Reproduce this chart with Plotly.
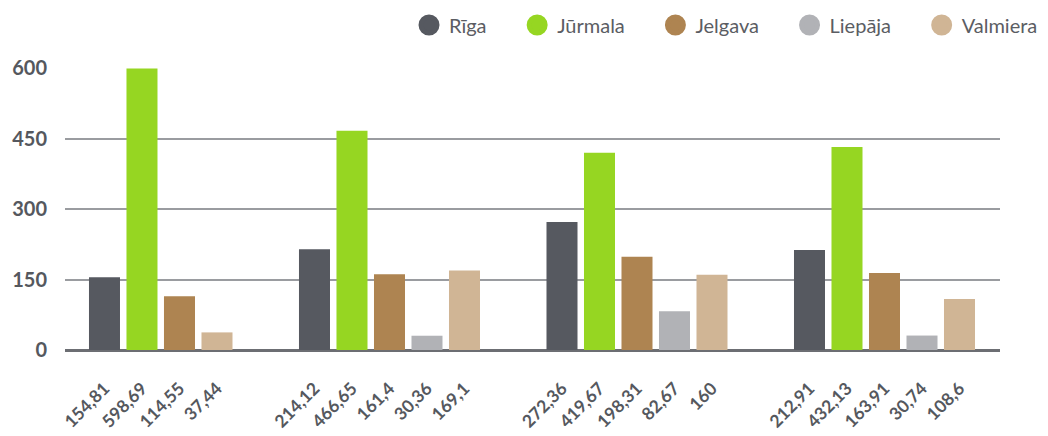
"""Grouped bar chart of five Latvian cities across four periods."""

import plotly.graph_objects as go

CITIES = ["Rīga", "Jūrmala", "Jelgava", "Liepāja", "Valmiera"]
COLORS = ["#565960", "#96d622", "#ae8451", "#b1b2b6", "#d0b595"]

# one value per group (None = no bar in that group)
riga = [154.81, 214.12, 272.36, 212.91]
jurmala = [598.69, 466.65, 419.67, 432.13]
jelgava = [114.55, 161.4, 198.31, 163.91]
liepaja = [None, 30.36, 82.67, 30.74]
valmiera = [37.44, 169.1, 160, 108.6]

SERIES = [riga, jurmala, jelgava, liepaja, valmiera]
Y_TICKS = [0, 150, 300, 450, 600]

GROUP_GAP = 1.6
TEXT = "#55585e"
FONT = "Lato"
PAD = "\u00a0" * 5  # extra room after each legend entry


def fmt(v):
    return f"{v:g}".replace(".", ",")


# lay bars out side by side, skipping missing values, with a gap between groups
xs = {c: [] for c in CITIES}
ys = {c: [] for c in CITIES}
tick_vals, tick_text = [], []
pos = 0.0
for g in range(len(riga)):
    for city, values in zip(CITIES, SERIES):
        v = values[g]
        if v is None:
            continue
        xs[city].append(pos)
        ys[city].append(v)
        tick_vals.append(pos)
        tick_text.append(fmt(v))
        pos += 1
    pos += GROUP_GAP

fig = go.Figure()
for i, (city, color) in enumerate(zip(CITIES, COLORS)):
    fig.add_trace(
        go.Bar(
            x=xs[city],
            y=ys[city],
            name=city,
            marker={"color": color, "line": {"width": 0}},
            width=0.827,
            showlegend=False,
            legendgroup=city,
            hoverinfo="y+name",
        )
    )
    fig.add_trace(
        go.Scatter(
            x=[None],
            y=[None],
            mode="markers",
            name=city + (PAD if i < len(CITIES) - 1 else ""),
            legendgroup=city,
            marker={"color": color, "size": 16, "line": {"color": color, "width": 5}},
        )
    )

# page body adds an 8px offset, so the figure is 8px smaller than the window
fig.update_layout(
    width=1040,
    height=428,
    margin={"l": 57, "r": 48, "t": 60, "b": 86, "autoexpand": False},
    paper_bgcolor="white",
    plot_bgcolor="white",
    font={"family": FONT, "color": TEXT},
    barmode="overlay",
    legend={
        "orientation": "h",
        "x": 1.046,
        "xanchor": "right",
        "y": 1 + 43 / 282,
        "yanchor": "middle",
        "font": {"size": 20, "color": "#5b5d63"},
        "itemsizing": "trace",
        "traceorder": "normal",
    },
)
fig.update_xaxes(
    range=[-1.053, pos - GROUP_GAP - 1 + 1.08],
    tickmode="array",
    tickvals=tick_vals,
    ticktext=tick_text,
    tickangle=-45,
    tickfont={"size": 17.5, "weight": "bold"},
    ticklabelstandoff=24,
    showgrid=False,
    showline=False,
    zeroline=False,
)
fig.update_yaxes(
    range=[0, 600],
    tickmode="array",
    tickvals=Y_TICKS,
    tickfont={"size": 20, "weight": "bold"},
    ticklabelstandoff=17,
    showgrid=True,
    gridcolor="#9a9ca0",
    gridwidth=1.5,
    zeroline=True,
    zerolinecolor="#6c6e73",
    zerolinewidth=2.5,
    showline=False,
)

fig.write_html("out.html")
